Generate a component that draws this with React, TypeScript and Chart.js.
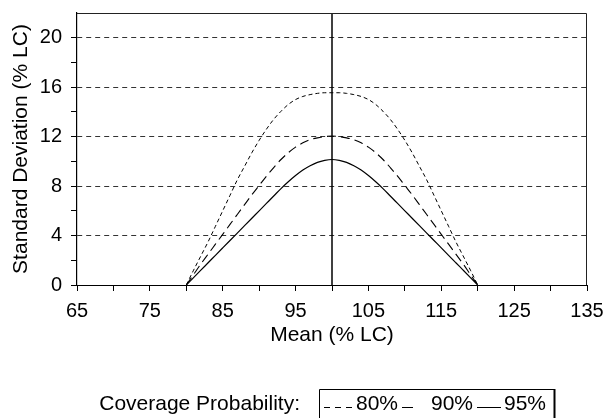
import React, { useEffect, useRef } from 'react';
import { Chart, registerables } from 'chart.js';

Chart.register(...registerables);

// ---- data ----
const meanX = [80, 81, 82, 83, 84, 85, 86, 87, 88, 89, 90, 91, 92, 93, 94, 95, 96, 97, 98, 99, 100,
  101, 102, 103, 104, 105, 106, 107, 108, 109, 110, 111, 112, 113, 114, 115, 116, 117, 118, 119, 120];

const sd80 = [0, 1.2, 2.35, 3.5, 4.75, 6.0, 7.25, 8.5, 9.6, 10.7, 11.7, 12.6, 13.4, 14.05, 14.6, 15.0, 15.25, 15.4, 15.5, 15.55, 15.55,
  15.55, 15.5, 15.4, 15.25, 15.0, 14.6, 14.05, 13.4, 12.6, 11.7, 10.7, 9.6, 8.5, 7.25, 6.0, 4.75, 3.5, 2.35, 1.2, 0];

const sd90 = [0, 0.85, 1.7, 2.5, 3.3, 4.1, 4.9, 5.7, 6.5, 7.3, 8.05, 8.8, 9.5, 10.15, 10.7, 11.15, 11.5, 11.75, 11.9, 12.0, 12.05,
  12.0, 11.9, 11.75, 11.5, 11.15, 10.7, 10.15, 9.5, 8.8, 8.05, 7.3, 6.5, 5.7, 4.9, 4.1, 3.3, 2.5, 1.7, 0.85, 0];

const sd95 = [0, 0.6, 1.2, 1.8, 2.4, 3.0, 3.6, 4.2, 4.8, 5.4, 6.0, 6.6, 7.2, 7.8, 8.35, 8.85, 9.3, 9.65, 9.92, 10.08, 10.15,
  10.08, 9.92, 9.65, 9.3, 8.85, 8.35, 7.8, 7.2, 6.6, 6.0, 5.4, 4.8, 4.2, 3.6, 3.0, 2.4, 1.8, 1.2, 0.6, 0];

const refMean = 100;
const refSd = [0, 22];

const xTickValues = [65, 70, 75, 80, 85, 90, 95, 100, 105, 110, 115, 120, 125, 130, 135];
const xTickLabels = [65, 75, 85, 95, 105, 115, 125, 135];
const yTickValues = [0, 2, 4, 6, 8, 10, 12, 14, 16, 18, 20];
const yTickLabels = [0, 4, 8, 12, 16, 20];
const yGridValues = [4, 8, 12, 16, 20];

const seriesLabels = ['80%', '90%', '95%'];
const legendTitle = 'Coverage Probability:';

const FONT = "'Liberation Sans', Arial, Helvetica, sans-serif";

const framePlugin = {
  id: 'frameAndLegend',
  afterDraw(chart: any) {
    const { ctx, chartArea } = chart;
    const { left, top, right, bottom } = chartArea;
    ctx.save();
    // top and right border
    ctx.strokeStyle = '#222';
    ctx.lineWidth = 1;
    ctx.setLineDash([]);
    ctx.beginPath();
    ctx.moveTo(left, top + 0.5);
    ctx.lineTo(right - 0.5, top + 0.5);
    ctx.lineTo(right - 0.5, bottom);
    ctx.stroke();

    // legend
    const ly = 404;
    ctx.fillStyle = '#000';
    ctx.font = `21px ${FONT}`;
    ctx.textBaseline = 'middle';
    ctx.textAlign = 'right';
    ctx.fillText(legendTitle, 300, ly);

    // box (bottom edge falls outside the picture)
    ctx.strokeStyle = '#000';
    ctx.lineWidth = 1;
    ctx.beginPath();
    ctx.moveTo(319.5, 430);
    ctx.lineTo(319.5, 389.5);
    ctx.lineTo(554.5, 389.5);
    ctx.stroke();
    ctx.lineWidth = 2;
    ctx.beginPath();
    ctx.moveTo(554.5, 389);
    ctx.lineTo(554.5, 430);
    ctx.stroke();

    ctx.lineWidth = 1;
    ctx.textAlign = 'left';
    const lineY = ly + 3.5;
    // 80%
    ctx.setLineDash([6, 5]);
    ctx.beginPath();
    ctx.moveTo(324, lineY);
    ctx.lineTo(353, lineY);
    ctx.stroke();
    ctx.fillText(seriesLabels[0], 356, ly);
    // 90%
    ctx.setLineDash([]);
    ctx.beginPath();
    ctx.moveTo(402, lineY);
    ctx.lineTo(413, lineY);
    ctx.stroke();
    ctx.fillText(seriesLabels[1], 431, ly);
    // 95%
    ctx.beginPath();
    ctx.moveTo(477, lineY);
    ctx.lineTo(501, lineY);
    ctx.stroke();
    ctx.fillText(seriesLabels[2], 504, ly);
    ctx.restore();
  },
};

export default function App() {
  const ref = useRef<HTMLCanvasElement | null>(null);

  useEffect(() => {
    if (!ref.current) return;
    const pts = (ys: number[]) => meanX.map((x, i) => ({ x, y: ys[i] }));
    const common = {
      borderColor: '#000',
      pointRadius: 0,
      cubicInterpolationMode: 'monotone' as const,
      fill: false,
    };
    const chart = new Chart(ref.current, {
      type: 'line',
      data: {
        datasets: [
          { ...common, label: seriesLabels[0], data: pts(sd80), borderWidth: 1, borderDash: [4, 3] },
          { ...common, label: seriesLabels[1], data: pts(sd90), borderWidth: 1.1, borderDash: [9, 5] },
          { ...common, label: seriesLabels[2], data: pts(sd95), borderWidth: 1.2 },
          {
            label: 'ref',
            data: refSd.map((y) => ({ x: refMean, y })),
            borderColor: '#000',
            borderWidth: 1.5,
            pointRadius: 0,
            fill: false,
          },
        ],
      },
      options: {
        responsive: false,
        animation: false,
        devicePixelRatio: 1,
        layout: { padding: { left: 9, top: 13, right: 18, bottom: 70 } },
        plugins: {
          legend: { display: false },
          tooltip: { enabled: false },
        },
        scales: {
          x: {
            type: 'linear',
            min: 65,
            max: 135,
            afterFit: (s: any) => {
              s.height = 63;
              s.paddingLeft = 0;
              s.paddingRight = 0;
            },
            afterBuildTicks: (s: any) => {
              s.ticks = xTickValues.map((v) => ({ value: v }));
            },
            ticks: {
              autoSkip: false,
              maxRotation: 0,
              padding: 8,
              color: '#000',
              font: { family: FONT, size: 20 },
              callback: (v: any) => (xTickLabels.includes(Number(v)) ? String(v) : ''),
            },
            grid: {
              drawOnChartArea: false,
              drawTicks: true,
              tickLength: 6,
              tickColor: '#000',
            },
            border: { display: true, color: '#000', width: 1 },
            title: {
              display: true,
              text: 'Mean (% LC)',
              color: '#000',
              font: { family: FONT, size: 21 },
              padding: 0,
            },
          },
          y: {
            type: 'linear',
            min: 0,
            max: 22,
            afterFit: (s: any) => {
              s.width = 68;
              s.paddingTop = 0;
              s.paddingBottom = 0;
            },
            afterBuildTicks: (s: any) => {
              s.ticks = yTickValues.map((v) => ({ value: v }));
            },
            ticks: {
              autoSkip: false,
              padding: 9,
              color: '#000',
              font: { family: FONT, size: 20 },
              callback: (v: any) => (yTickLabels.includes(Number(v)) ? String(v) : ''),
            },
            grid: {
              drawOnChartArea: true,
              drawTicks: true,
              tickLength: 6,
              tickColor: '#000',
              color: (c: any) => (c.tick && yGridValues.includes(c.tick.value) ? '#333' : 'rgba(0,0,0,0)'),
              lineWidth: 1,
            },
            border: { display: true, color: '#000', width: 1.2, dash: [5, 4] },
            title: {
              display: true,
              text: 'Standard Deviation (% LC)',
              color: '#000',
              font: { family: FONT, size: 21 },
              padding: 0,
            },
          },
        },
      },
      plugins: [framePlugin],
    });
    return () => chart.destroy();
  }, []);

  return (
    <div style={{ position: 'fixed', left: 0, top: 0, width: 605, height: 418, background: '#fff' }}>
      <canvas ref={ref} width={605} height={418} style={{ display: 'block' }} />
    </div>
  );
}
